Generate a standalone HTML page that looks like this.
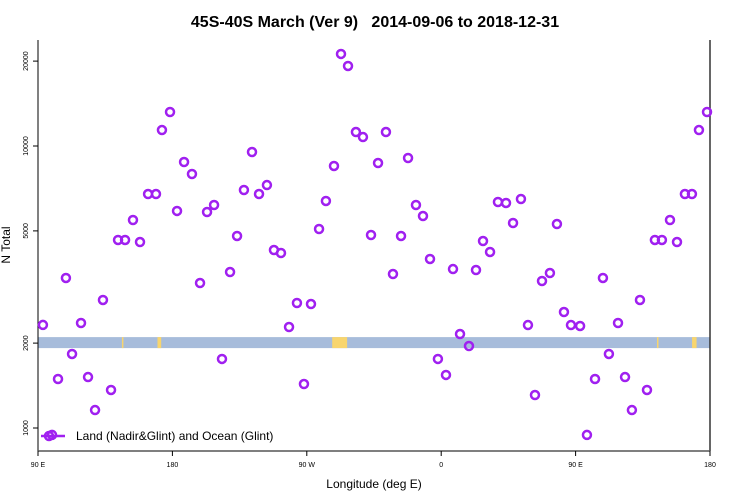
<!DOCTYPE html>
<html><head><meta charset="utf-8"><style>
body{margin:0;background:#fff;}
svg{display:block;font-family:"Liberation Sans",sans-serif;}
</style></head><body>
<svg id="chart" width="750" height="500" viewBox="0 0 750 500">
<text x="375" y="27" text-anchor="middle" font-size="16" font-weight="bold" style="white-space:pre">45S-40S March (Ver 9)   2014-09-06 to 2018-12-31</text>
<g id="band"></g>
<g id="axes"></g>
<g id="pts"></g>
<text x="374" y="488" text-anchor="middle" font-size="12">Longitude (deg E)</text>
<text transform="translate(10,245) rotate(-90)" text-anchor="middle" font-size="12">N Total</text>
<g>
<line x1="41" y1="436" x2="65" y2="436" stroke="#a020f0" stroke-width="2.5"/>
<circle cx="49" cy="436" r="4" fill="none" stroke="#a020f0" stroke-width="2.5"/>
<text x="76" y="440" font-size="12">Land (Nadir&amp;Glint) and Ocean (Glint)</text>
</g>
</svg>
<script>
const lons=[93.3,99.4,103.4,108.7,112.8,118.8,123.5,128.2,133.5,138.9,143.6,148.3,153.6,158.3,163.7,169.0,173.0,178.4,183.1,187.8,193.1,198.5,203.2,207.9,213.2,218.6,223.3,227.9,233.3,238.0,243.3,248.0,252.7,258.1,263.4,268.1,272.8,278.2,282.8,288.2,292.9,297.6,302.9,307.6,313.0,317.7,323.0,327.7,333.1,337.8,343.1,347.8,352.5,357.8,363.2,367.9,372.6,378.6,383.3,388.0,392.7,398.0,403.4,408.1,413.4,418.1,422.8,427.5,432.8,437.5,442.2,446.9,453.0,457.6,463.0,468.3,472.3,478.4,483.1,487.7,493.1,497.8,503.1,507.8,513.2,517.9,523.2,527.9,532.6,538.0];
const counts=[2320,945,1492,3404,1830,2357,1516,1158,2844,1364,4642,4642,5465,4566,6757,6757,11390,13200,5883,8775,7956,3267,5834,6177,1757,3574,4796,6982,9522,6757,7271,4277,4174,2281,2775,1432,2752,5078,6383,8494,21200,19220,11210,10760,4835,8703,11210,3516,4796,9067,6177,5646,3975,1757,1542,3662,2154,1953,3633,4603,4209,6330,6280,5333,6487,2318,1309,3321,3545,5289,2578,2318,2300,945,1492,3404,1830,2357,1516,1158,2844,1364,4642,4642,5465,4566,6757,6757,11390,13200];
const yTicks=[1000,2000,5000,10000,20000];
const xTicks=[90,180,270,360,450,540];
const xTickLabels=["90 E","180","90 W","0","90 E","180"];
const landLons=[[146.2,147.2],[170,172.5],[287,297],[504.5,505.5],[528,531]];
const bandValue=2000;

const NS='http://www.w3.org/2000/svg';
const X0=38,X1=710,Y0=40,Y1=451;
function xs(l){return X0+(l-90)*(X1-X0)/450;}
function ys(v){return 428-Math.log10(v/1000)*282;}
function mk(tag,attrs,parent){const e=document.createElementNS(NS,tag);for(const k in attrs)e.setAttribute(k,attrs[k]);parent.appendChild(e);return e;}

const band=document.getElementById('band');
const by=ys(bandValue);
let r=mk('rect',{x:X0,y:by-6,width:X1-X0,height:11,fill:'#a7bcdb'},band);


landLons.forEach(p=>{
 const e=mk('rect',{x:xs(p[0]),y:by-6,width:xs(p[1])-xs(p[0]),height:11,fill:'#f8d56e'},band);
 
 
});

const ax=document.getElementById('axes');
mk('line',{x1:X0,y1:Y0,x2:X0,y2:Y1,stroke:'#000','stroke-width':1},ax);
mk('line',{x1:X1,y1:Y0,x2:X1,y2:Y1,stroke:'#333','stroke-width':1.5},ax);
mk('line',{x1:X0,y1:Y1,x2:X1,y2:Y1,stroke:'#555','stroke-width':1.5},ax);
yTicks.forEach(v=>{
 const y=ys(v);
 mk('line',{x1:X0-5,y1:y,x2:X0,y2:y,stroke:'#000'},ax);
 const t=mk('text',{transform:`translate(28,${y}) rotate(-90)`,'text-anchor':'middle','font-size':7},ax);
 t.textContent=v;
 
 
});
xTicks.forEach((l,i)=>{
 const x=xs(l);
 mk('line',{x1:x,y1:Y1,x2:x,y2:Y1+5,stroke:'#000'},ax);
 const t=mk('text',{x:x,y:467,'text-anchor':'middle','font-size':7},ax);
 t.textContent=xTickLabels[i];
 
 
});

const pts=document.getElementById('pts');
lons.forEach((l,i)=>{
 const c=mk('circle',{cx:xs(l),cy:ys(counts[i]),r:4,fill:'none',stroke:'#a020f0','stroke-width':2.5},pts);
 
 
});
</script>
</body></html>
